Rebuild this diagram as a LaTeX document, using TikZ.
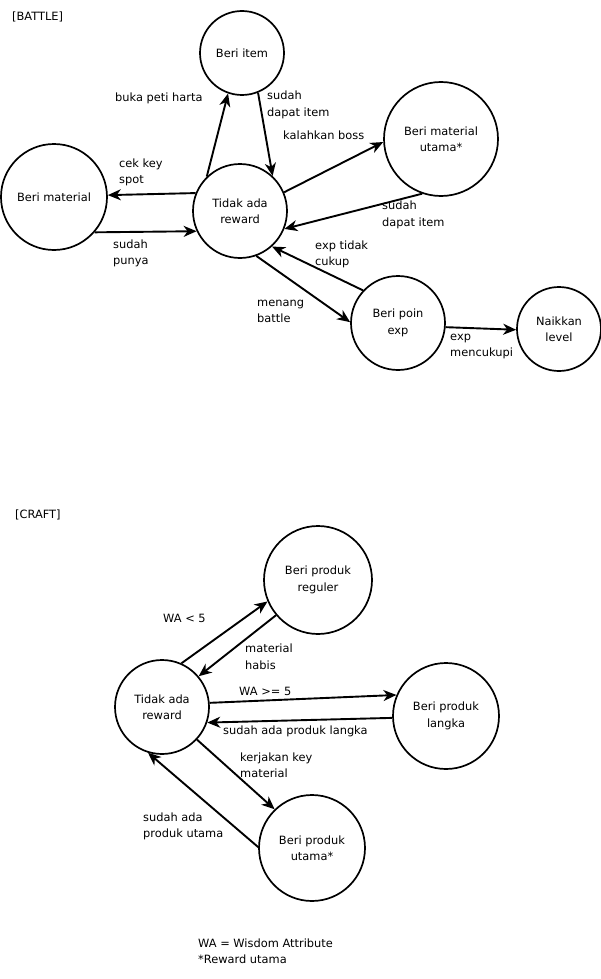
\documentclass[tikz,border=0pt]{standalone}
\usepackage{fontspec}
\setmainfont{DejaVu Sans}
\usetikzlibrary{arrows.meta, positioning}

\begin{document}
\begin{tikzpicture}[x=1pt, y=-1pt,
    every node/.style={font=\fontsize{11.4}{16.5}\selectfont},
    state/.style={circle, draw=black, line width=1.7pt, inner sep=0pt, align=center},
    lbl/.style={anchor=west, align=left, inner sep=0pt},
    arrow/.style={line width=1.9pt, -{Stealth[length=13pt,width=11pt,inset=4pt]}}
]
\useasboundingbox (0,0) rectangle (600,979);

% ---------------- BATTLE ----------------
\node[lbl] (battle) at (12,17) {[BATTLE]};

\node[state, minimum size=94pt] (tidak) at (240,211) {Tidak ada\\reward};
\node[state, minimum size=84pt] (item) at (242,53) {Beri item};
\node[state, minimum size=106pt] (material) at (54,197) {Beri material};
\node[state, minimum size=114pt] (utama) at (441,139) {Beri material\\utama*};
\node[state, minimum size=94pt] (poin) at (398,323) {Beri poin\\exp};
\node[state, minimum size=84pt] (naik) at (559,329) {Naikkan\\level};

% arrows
\draw[arrow] (tidak.134) -- (item.251);
\draw[arrow] (item.292) -- (tidak.47);
\draw[arrow] (tidak.158) -- (material.2);
\draw[arrow] (material.319) -- (tidak.205);
\draw[arrow] (tidak.23) -- (utama.183);
\draw[arrow] (utama.251) -- (tidak.338);
\draw[arrow] (poin.137) -- (tidak.312);
\draw[arrow] (tidak.290) -- (poin.179);
\draw[arrow] (poin.355) -- (naik.181);

% labels
\node[lbl] (l1) at (115,98) {buka peti harta};
\node[lbl] (l2) at (267,105) {sudah\\dapat item};
\node[lbl] (l3) at (119,172.5) {cek key\\spot};
\node[lbl] (l4) at (113,253.5) {sudah\\punya};
\node[lbl] (l5) at (283,135) {kalahkan boss};
\node[lbl] (l6) at (382,215) {sudah\\dapat item};
\node[lbl] (l7) at (315,254.5) {exp tidak\\cukup};
\node[lbl] (l8) at (257,311.5) {menang\\battle};
\node[lbl] (l9) at (450,346.5) {exp\\mencukupi};

% ---------------- CRAFT ----------------
\node[lbl] (craft) at (15,515) {[CRAFT]};

\node[state, minimum size=94pt] (ctidak) at (162,707) {Tidak ada\\reward};
\node[state, minimum size=108pt] (reguler) at (318,580) {Beri produk\\reguler};
\node[state, minimum size=106pt] (langka) at (446,716) {Beri produk\\langka};
\node[state, minimum size=106pt] (cutama) at (312,848) {Beri produk\\utama*};

% arrows
\draw[arrow] (ctidak.66) -- (reguler.203);
\draw[arrow] (reguler.220) -- (ctidak.40);
\draw[arrow] (ctidak.5) -- (langka.157);
\draw[arrow] (langka.182) -- (ctidak.341);
\draw[arrow] (ctidak.317) -- (cutama.134);
\draw[arrow] (cutama.179) -- (ctidak.253);

% labels
\node[lbl] (c1) at (163,618) {WA < 5};
\node[lbl] (c2) at (245,656.5) {material\\habis};
\node[lbl] (c3) at (239,691) {WA >= 5};
\node[lbl] (c4) at (223,731) {sudah ada produk langka};
\node[lbl] (c5) at (240,765) {kerjakan key\\material};
\node[lbl] (c6) at (143,826.5) {sudah ada\\produk utama};

% legend
\node[lbl] (legend) at (198,951) {WA = Wisdom Attribute\\*Reward utama};

\end{tikzpicture}
\end{document}
